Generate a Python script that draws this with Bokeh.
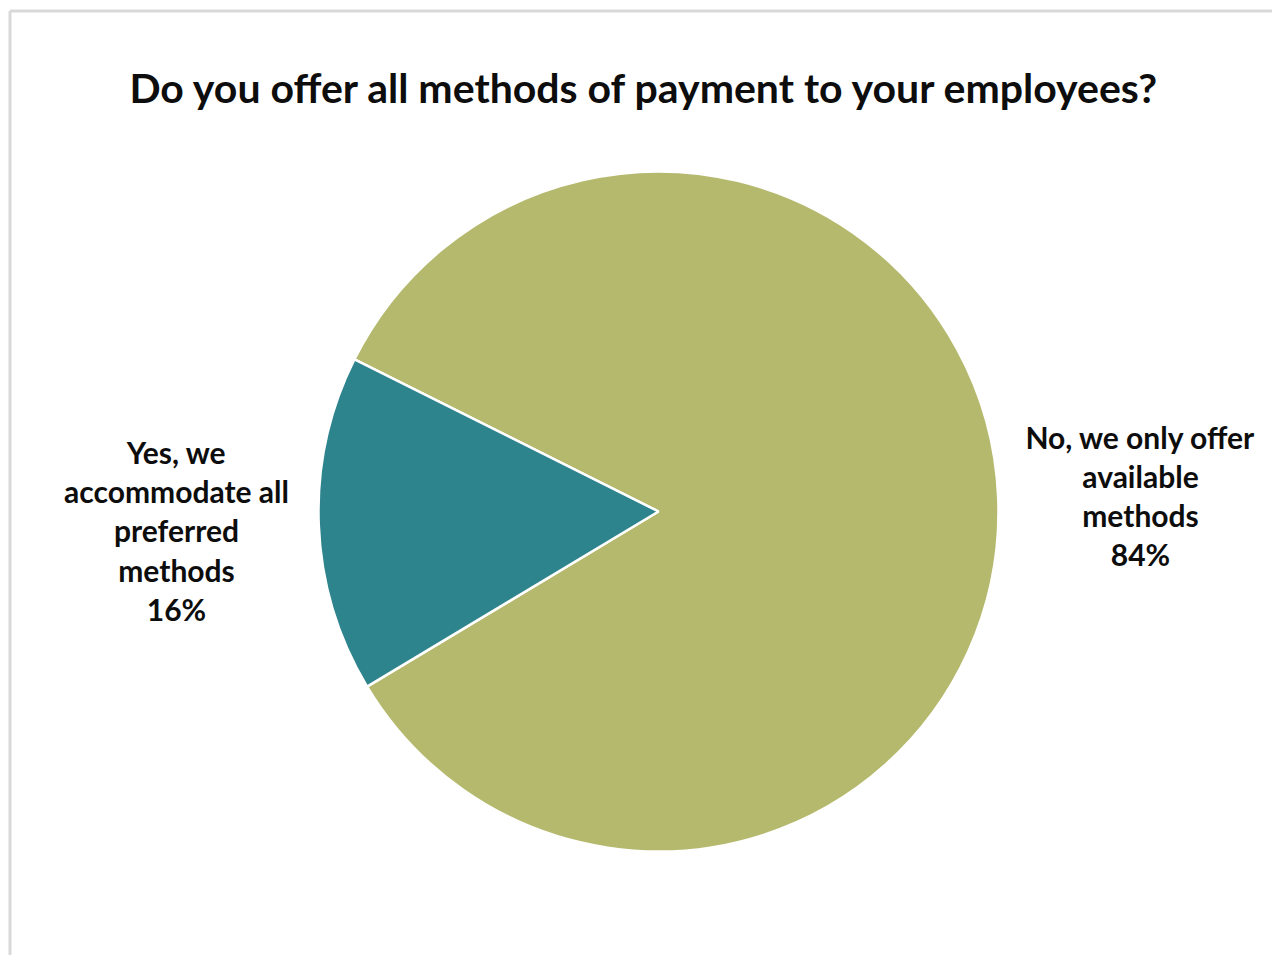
import numpy as np
from bokeh.plotting import figure
from bokeh.models import Range1d, ColumnDataSource
from bokeh.core.properties import value
from bokeh.embed import file_html
from bokeh.resources import INLINE

# ---- data ----
title_text = "Do you offer all methods of payment to your employees?"
categories = ["No, we only offer\navailable\nmethods", "Yes, we\naccommodate all\npreferred\nmethods"]
values = [84, 16]
colors = ["#B5B96D", "#2E848C"]

# ---- layout (x = pixels from left, y = 963 - pixels from top) ----
W, H = 1272, 955
cx, cy, r = 658, 963 - 511, 340
start_deg = 211.0
label_pos = [(1140, 963 - 495), (176, 963 - 530)]

p = figure(width=W, height=H, output_backend="svg", toolbar_location=None,
           x_range=Range1d(0, W), y_range=Range1d(963 - H, 963),
           min_border=0, outline_line_color=None,
           background_fill_color="white", border_fill_color="white")
p.axis.visible = False
p.grid.visible = False

# chart border (left and top edges visible in the window)
p.segment(x0=[9.5, 9.5], y0=[0, 963 - 10.5], x1=[9.5, 1280], y1=[963 - 10.5, 963 - 10.5],
          line_color="#D9D9D9", line_width=3)

vals = np.array(values, dtype=float)
fr = vals / vals.sum()
ends = np.cumsum(fr) * 2 * np.pi
starts = np.concatenate([[0], ends[:-1]])
off = np.deg2rad(start_deg)
src = ColumnDataSource(dict(start=starts + off, end=ends + off, color=colors))
p.wedge(x=cx, y=cy, radius=r, start_angle="start", end_angle="end",
        fill_color="color", line_color="white", line_width=2.5, source=src)

labels = [f"{c}\n{v}%" for c, v in zip(categories, values)]
lsrc = ColumnDataSource(dict(x=[q[0] for q in label_pos], y=[q[1] for q in label_pos], t=labels))
p.text(x="x", y="y", text="t", source=lsrc, text_align="center", text_baseline="middle",
       text_font=value("Lato"), text_font_style="bold", text_font_size="30px",
       text_color="#0D0D0D", text_line_height=1.09)

p.text(x=[645], y=[963 - 87], text=[title_text], text_align="center", text_baseline="middle",
       text_font=value("Lato"), text_font_style="bold", text_font_size="41px", text_color="#0D0D0D")

open("out.html", "w").write(file_html(p, INLINE))
